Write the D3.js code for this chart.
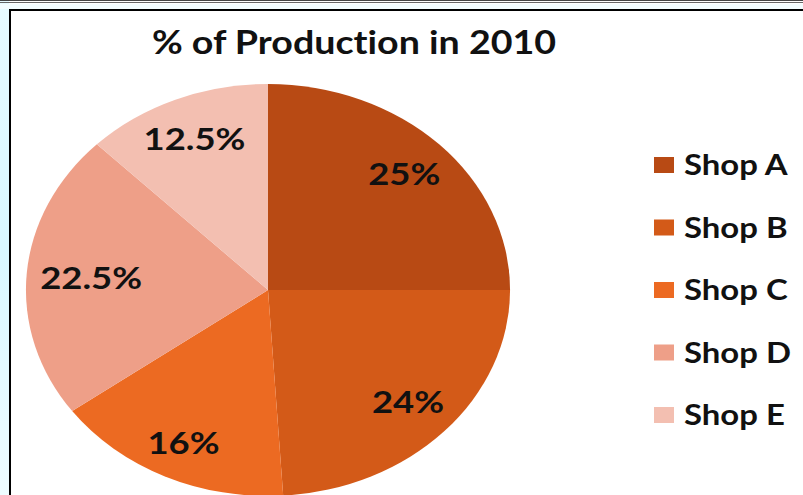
<!DOCTYPE html>
<html>
<head>
<meta charset="utf-8">
<script src="https://cdn.jsdelivr.net/npm/d3@7"></script>
<style>
  html, body { margin: 0; padding: 0; background: #fff; }
  svg { display: block; }
  text { font-family: Lato, "Open Sans", sans-serif; font-weight: 700; fill: #111; font-variant-ligatures: none; }
</style>
</head>
<body>
<svg id="chart" width="803" height="495"></svg>
<script>
// Share of production per shop in 2010 (percent)
const shops = ["Shop A", "Shop B", "Shop C", "Shop D", "Shop E"];
const shares = [25, 24, 16, 22.5, 12.5];
const shareLabels = ["25%", "24%", "16%", "22.5%", "12.5%"];
const colors = ["#b84a14", "#d35a18", "#ec6a22", "#ee9f88", "#f3bfb1"];
const title = "% of Production in 2010";

const W = 803, H = 495;
const svg = d3.select("#chart");

// frame: light cyan margin, double top rule and black inner frame
const defs = svg.append("defs");
const g1 = defs.append("linearGradient").attr("id", "margin").attr("x1", 0).attr("x2", 0).attr("y1", 0).attr("y2", 1);
g1.append("stop").attr("offset", "0%").attr("stop-color", "#e6fbff");
g1.append("stop").attr("offset", "50%").attr("stop-color", "#d9f8ff");
g1.append("stop").attr("offset", "100%").attr("stop-color", "#eefcff");
svg.append("rect").attr("x", 0).attr("y", 0).attr("width", 9).attr("height", H).attr("fill", "url(#margin)");
svg.append("rect").attr("x", 0).attr("y", 4).attr("width", W).attr("height", 5).attr("fill", "#f3fdff");
svg.append("line").attr("x1", 0).attr("x2", W).attr("y1", 0.5).attr("y2", 0.5).attr("stroke", "#444").attr("stroke-width", 1);
svg.append("line").attr("x1", 0).attr("x2", W).attr("y1", 2.5).attr("y2", 2.5).attr("stroke", "#666").attr("stroke-width", 1);
svg.append("line").attr("x1", 9).attr("x2", W).attr("y1", 10).attr("y2", 10).attr("stroke", "#000").attr("stroke-width", 2);
svg.append("line").attr("x1", 10).attr("x2", 10).attr("y1", 9).attr("y2", H).attr("stroke", "#000").attr("stroke-width", 2);

// the chart is drawn horizontally stretched
const sx = 1.175;
const R = 206;
const cx = 268, cy = 290;

svg.append("text")
  .attr("transform", `translate(354,54) scale(${sx},1)`)
  .attr("text-anchor", "middle")
  .style("font-size", "32px")
  .text(title);

const pie = d3.pie().sort(null).value(d => d)(shares);
const arc = d3.arc().innerRadius(0).outerRadius(R);

const gp = svg.append("g").attr("transform", `translate(${cx},${cy}) scale(${sx},1)`);
gp.selectAll("path").data(pie).join("path")
  .attr("d", arc)
  .attr("fill", (d, i) => colors[i]);

// value labels sit inside their slice, pushed out along the mid-angle
// until the farthest corner of the label box reaches 95% of the radius
const labels = gp.selectAll("text.lbl").data(pie).join("text")
  .attr("class", "lbl")
  .attr("text-anchor", "middle")
  .attr("dy", "0.36em")
  .style("font-size", "31px")
  .text((d, i) => shareLabels[i]);

labels.each(function (d) {
  const b = this.getBBox();
  const hw = b.width / 2, hh = b.height * 0.36;
  const a = (d.startAngle + d.endAngle) / 2;
  const ux = Math.sin(a), uy = -Math.cos(a);
  let r = 0;
  for (let t = 0; t <= R; t += 0.5) {
    const px = t * ux, py = t * uy;
    const far = Math.max(
      Math.hypot(px - hw, py - hh), Math.hypot(px + hw, py - hh),
      Math.hypot(px - hw, py + hh), Math.hypot(px + hw, py + hh));
    if (far > R * 0.95) break;
    r = t;
  }
  d3.select(this).attr("transform", `translate(${r * ux},${r * uy})`);
});

// legend
const ly = d3.scalePoint().domain(shops).range([165, 415]);
const lg = svg.append("g");
lg.selectAll("rect").data(shops).join("rect")
  .attr("x", 654).attr("y", d => ly(d) - 8)
  .attr("width", 20).attr("height", 16)
  .attr("fill", (d, i) => colors[i]);
lg.selectAll("text").data(shops).join("text")
  .attr("transform", d => `translate(684,${ly(d)}) scale(${sx},1)`)
  .attr("dy", "0.36em")
  .style("font-size", "28px")
  .text(d => d);
</script>
</body>
</html>
